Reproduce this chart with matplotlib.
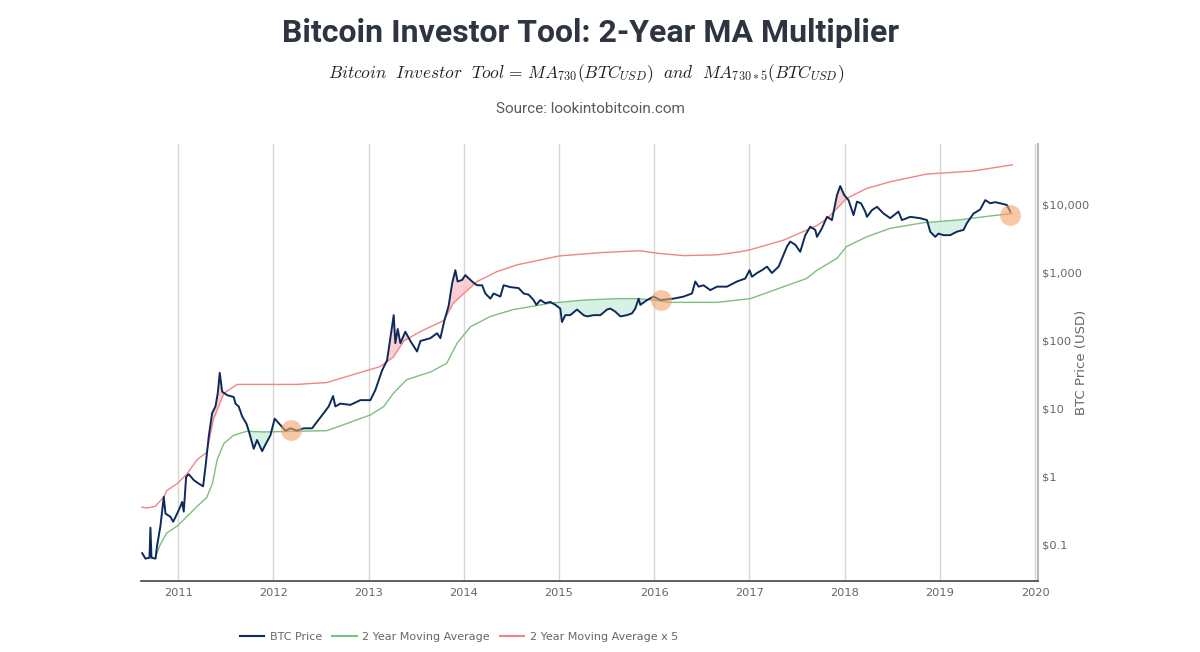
import numpy as np
import matplotlib
matplotlib.use("Agg")
import matplotlib.pyplot as plt
from matplotlib.lines import Line2D

# ---------------- data (decimal years, USD) ----------------
btc_t = [2010.622, 2010.657, 2010.699, 2010.709, 2010.720, 2010.762, 2010.780, 2010.814, 2010.849, 2010.867,
         2010.919, 2010.948, 2010.990, 2011.024, 2011.042, 2011.059, 2011.084, 2011.111, 2011.164, 2011.216,
         2011.262, 2011.287, 2011.321, 2011.357, 2011.392, 2011.416, 2011.437, 2011.462, 2011.514, 2011.584,
         2011.602, 2011.636, 2011.672, 2011.717, 2011.741, 2011.794, 2011.829, 2011.882, 2011.917, 2011.969,
         2012.014, 2012.074, 2012.127, 2012.179, 2012.249, 2012.319, 2012.407, 2012.459, 2012.529, 2012.581,
         2012.627, 2012.651, 2012.704, 2012.809, 2012.914, 2013.019, 2013.071, 2013.142, 2013.194, 2013.236,
         2013.264, 2013.281, 2013.306, 2013.334, 2013.386, 2013.439, 2013.509, 2013.544, 2013.649, 2013.719,
         2013.754, 2013.796, 2013.841, 2013.877, 2013.911, 2013.935, 2013.982, 2014.016, 2014.087, 2014.139,
         2014.192, 2014.226, 2014.279, 2014.313, 2014.384, 2014.418, 2014.489, 2014.576, 2014.628, 2014.681,
         2014.733, 2014.762, 2014.804, 2014.856, 2014.908, 2014.961, 2015.013, 2015.031, 2015.066, 2015.118,
         2015.189, 2015.258, 2015.294, 2015.363, 2015.434, 2015.504, 2015.539, 2015.591, 2015.644, 2015.714,
         2015.766, 2015.801, 2015.836, 2015.854, 2015.924, 2015.993, 2016.064, 2016.134, 2016.203, 2016.308,
         2016.396, 2016.431, 2016.466, 2016.518, 2016.588, 2016.659, 2016.764, 2016.869, 2016.956, 2017.001,
         2017.026, 2017.079, 2017.131, 2017.184, 2017.236, 2017.306, 2017.358, 2017.394, 2017.428, 2017.481,
         2017.533, 2017.586, 2017.638, 2017.691, 2017.709, 2017.761, 2017.814, 2017.866, 2017.919, 2017.953,
         2017.995, 2018.040, 2018.093, 2018.129, 2018.171, 2018.216, 2018.234, 2018.286, 2018.339, 2018.408,
         2018.478, 2018.565, 2018.601, 2018.688, 2018.793, 2018.864, 2018.898, 2018.951, 2018.985, 2019.038,
         2019.108, 2019.178, 2019.248, 2019.283, 2019.353, 2019.388, 2019.423, 2019.476, 2019.528, 2019.581,
         2019.633, 2019.704, 2019.738]
btc_price = [0.076, 0.063, 0.065, 0.18, 0.065, 0.063, 0.10, 0.19, 0.51, 0.29,
             0.26, 0.22, 0.29, 0.37, 0.43, 0.31, 1.0, 1.1, 0.9, 0.8,
             0.73, 1.4, 3.9, 8.7, 10.9, 17, 34, 18, 16, 15,
             12, 10.9, 7.8, 6.1, 4.8, 2.6, 3.5, 2.4, 3.0, 4.1,
             7.2, 5.8, 4.8, 5.2, 4.8, 5.2, 5.2, 6.5, 8.7, 10.9,
             15.5, 10.9, 12, 11.5, 13.5, 13.5, 19, 37, 52, 130,
             240, 93, 150, 93, 137, 100, 70, 100, 110, 130,
             110, 200, 330, 700, 1100, 750, 790, 930, 750, 660,
             660, 500, 420, 500, 450, 660, 620, 600, 500, 480,
             400, 340, 400, 360, 375, 340, 300, 190, 240, 240,
             290, 240, 230, 240, 240, 290, 300, 270, 230, 240,
             255, 300, 420, 340, 400, 450, 400, 410, 420, 450,
             500, 750, 630, 660, 560, 630, 630, 750, 830, 1100,
             880, 1000, 1100, 1240, 1000, 1240, 1850, 2450, 2900, 2600,
             2050, 3600, 4800, 4300, 3400, 4550, 6700, 6000, 14000, 19000,
             14000, 11800, 7100, 11200, 10600, 8000, 6700, 8400, 9400, 7500,
             6400, 8000, 6000, 6700, 6400, 6000, 4050, 3400, 3800, 3600,
             3600, 4050, 4300, 5400, 7500, 8000, 8600, 11800, 10600, 11000,
             10600, 10000, 8000]

ma_t = [2010.76, 2010.81, 2010.88, 2010.99, 2011.09, 2011.20, 2011.30, 2011.36, 2011.41, 2011.48,
        2011.58, 2011.72, 2011.90, 2012.25, 2012.56, 2012.77, 2013.02, 2013.16, 2013.26, 2013.40,
        2013.65, 2013.82, 2013.93, 2014.07, 2014.28, 2014.52, 2014.70, 2014.91, 2015.26, 2015.61,
        2015.82, 2015.99, 2016.17, 2016.48, 2016.66, 2017.01, 2017.36, 2017.60, 2017.71, 2017.92,
        2018.02, 2018.23, 2018.48, 2018.83, 2019.18, 2019.53, 2019.76]
ma_price = [0.065, 0.10, 0.15, 0.19, 0.26, 0.37, 0.50, 0.8, 1.8, 3.1,
            4.1, 4.7, 4.6, 4.7, 4.8, 6.1, 8.2, 10.9, 17, 27,
            35, 47, 93, 162, 230, 290, 320, 360, 400, 420,
            420, 400, 370, 370, 370, 420, 630, 830, 1100, 1650,
            2450, 3400, 4550, 5500, 6000, 6900, 7500]

ma5_t = [2010.62, 2010.67, 2010.76, 2010.85, 2010.88, 2010.99, 2011.09, 2011.20, 2011.30, 2011.37,
         2011.48, 2011.62, 2011.90, 2012.25, 2012.56, 2012.77, 2013.12, 2013.26, 2013.37, 2013.54,
         2013.79, 2013.89, 2014.00, 2014.14, 2014.35, 2014.56, 2014.70, 2015.00, 2015.43, 2015.85,
         2016.03, 2016.31, 2016.66, 2016.90, 2017.01, 2017.36, 2017.71, 2017.82, 2018.02, 2018.23,
         2018.48, 2018.86, 2019.35, 2019.76]
ma5_price = [0.36, 0.35, 0.37, 0.51, 0.63, 0.8, 1.1, 1.8, 2.3, 7,
             17, 23, 23, 23, 24.5, 30, 42, 58, 100, 137,
             200, 360, 500, 750, 1050, 1320, 1450, 1780, 1990, 2130,
             1950, 1800, 1850, 2050, 2200, 3050, 5000, 6400, 12500, 17500,
             22000, 28500, 31600, 39000]

circle_t = [2012.18, 2016.07, 2019.74]
circle_price = [4.9, 400, 7120]

year_ticks = list(range(2011, 2021))
price_ticks = [0.1, 1, 10, 100, 1000, 10000]
price_labels = ["$0.1", "$1", "$10", "$100", "$1,000", "$10,000"]

# ---------------- styling ----------------
C_BTC = "#0d2b5a"
C_MA = "#7dbf7d"
C_MA5 = "#f08585"
C_TXT = "#666666"

fig = plt.figure(figsize=(12, 6.52), dpi=100)
ax = fig.add_axes([141 / 1200, 1 - 581 / 652, (1038 - 141) / 1200, (581 - 144) / 652])
ax.set_yscale("log")
ax.set_xlim(2010.61, 2020.03)
ax.set_ylim(10 ** (4 - (581 - 205) / 68), 10 ** (4 + (205 - 144) / 68))

# fills
bt = np.array(btc_t)
bp = np.array(btc_price)
ma_on_b = 10 ** np.interp(bt, ma_t, np.log10(ma_price), left=np.nan, right=np.nan)
ma5_on_b = 10 ** np.interp(bt, ma5_t, np.log10(ma5_price), left=np.nan, right=np.nan)
ax.fill_between(bt, bp, ma5_on_b, where=bp > ma5_on_b, interpolate=True,
                color="#fbc9cf", alpha=0.9, lw=0, zorder=1)
ax.fill_between(bt, bp, ma_on_b, where=bp < ma_on_b, interpolate=True,
                color="#d3f1e3", alpha=0.9, lw=0, zorder=1)

ax.plot(ma5_t, ma5_price, color=C_MA5, lw=1.0, zorder=2)
ax.plot(ma_t, ma_price, color=C_MA, lw=1.0, zorder=2)
ax.plot(btc_t, btc_price, color=C_BTC, lw=1.4, zorder=3)
ax.plot(circle_t, circle_price, "o", ms=15, color="#f4a36a", alpha=0.6, mec="none", zorder=4)

# axes
ax.set_xticks(year_ticks)
ax.set_xticklabels([str(y) for y in year_ticks])
ax.set_yticks(price_ticks)
ax.set_yticklabels(price_labels)
ax.yaxis.set_minor_locator(matplotlib.ticker.NullLocator())
ax.yaxis.tick_right()
ax.tick_params(axis="y", length=0, pad=3, labelsize=8.2, labelcolor=C_TXT)
ax.tick_params(axis="x", length=0, pad=5, labelsize=8.2, labelcolor=C_TXT)
fig.text(1081 / 1200, 1 - 362 / 652, "BTC Price (USD)", rotation=90, ha="center", va="center",
         color=C_TXT, fontsize=9.5)
ax.grid(axis="x", color="#d6d6d6", lw=1)
ax.grid(axis="y", visible=False)
ax.set_axisbelow(True)
for s in ["left", "top"]:
    ax.spines[s].set_visible(False)
ax.spines["bottom"].set_color("#444444")
ax.spines["bottom"].set_linewidth(1.2)
ax.spines["right"].set_color("#aaaaaa")
ax.spines["right"].set_linewidth(1.2)

# titles
fig.text(0.492, 1 - 33 / 652, "Bitcoin Investor Tool: 2-Year MA Multiplier", ha="center", va="center",
         fontsize=23, fontweight="bold", family="Roboto", color="#2e3540")
plt.rcParams["mathtext.fontset"] = "cm"
fig.text(0.488, 1 - 74 / 652,
         r"$Bitcoin\ \ Investor\ \ Tool\,=\,MA_{730}(BTC_{USD})\ \ and\ \ MA_{730*5}(BTC_{USD})$",
         ha="center", va="center", fontsize=12.5, color="#222222")
fig.text(0.492, 1 - 109 / 652, "Source: lookintobitcoin.com", ha="center", va="center",
         fontsize=11, family="Roboto", fontweight="normal", color="#5a5a5a")

handles = [Line2D([], [], color=C_BTC, lw=1.5),
           Line2D([], [], color=C_MA, lw=1.5),
           Line2D([], [], color=C_MA5, lw=1.5)]
labels = ["BTC Price", "2 Year Moving Average", "2 Year Moving Average x 5"]
leg = fig.legend(handles, labels, loc="center left", bbox_to_anchor=(230 / 1200, 1 - 637 / 652),
                 ncol=3, frameon=False, fontsize=8, handlelength=2.2, handletextpad=0.5,
                 columnspacing=0.9)
for t in leg.get_texts():
    t.set_color(C_TXT)

fig.savefig("out.png", dpi=100)
